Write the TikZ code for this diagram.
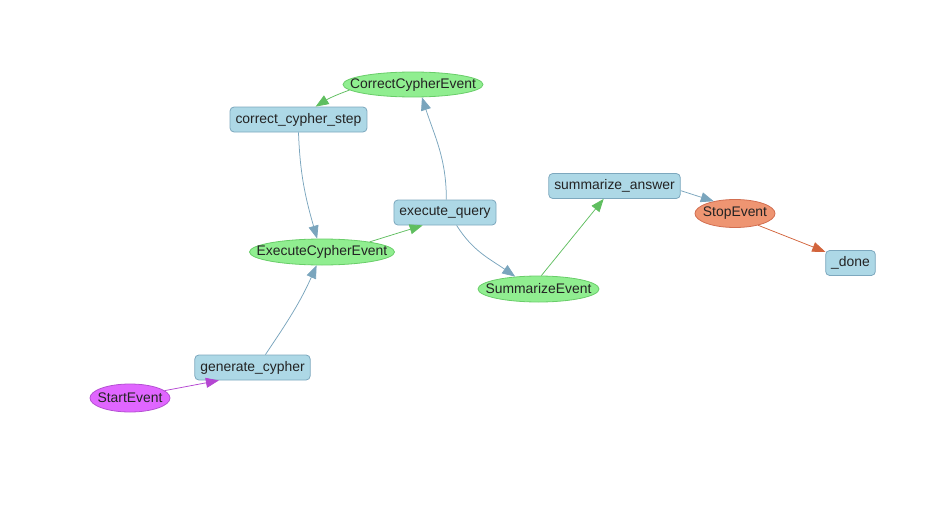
\documentclass[tikz,border=0pt]{standalone}
\usepackage{fontspec}
\setmainfont{Liberation Sans}
\usetikzlibrary{shapes.geometric,arrows.meta}
\definecolor{boxfill}{HTML}{ADD8E6}
\definecolor{boxdraw}{RGB}{125,168,190}
\definecolor{bluedge}{RGB}{122,165,189}
\definecolor{grnfill}{HTML}{90EE90}
\definecolor{grndraw}{RGB}{105,205,105}
\definecolor{grnedge}{RGB}{95,190,95}
\definecolor{purfill}{RGB}{224,102,255}
\definecolor{purdraw}{RGB}{180,80,210}
\definecolor{puredge}{RGB}{180,70,210}
\definecolor{orgfill}{RGB}{238,149,114}
\definecolor{orgdraw}{RGB}{210,110,80}
\definecolor{orgedge}{RGB}{210,100,60}
\definecolor{txt}{RGB}{35,35,35}
\newcommand{\zw}[1]{\makebox[0pt]{#1}}
\begin{document}
\begin{tikzpicture}[x=1pt,y=1pt,
  lbl/.style={font=\fontsize{13.9}{16}\selectfont, text=txt},
  stepbox/.style={lbl, draw=boxdraw, fill=boxfill, rounded corners=4pt,
    minimum height=25pt, inner xsep=5.5pt, inner ysep=0pt, line width=0.8pt},
  evt/.style={lbl, ellipse, inner sep=0pt, line width=0.8pt},
  grnevt/.style={evt, draw=grndraw, fill=grnfill},
  edge/.style={line width=0.75pt, -{Triangle[length=13pt,width=10pt]}},
  bedge/.style={edge, draw=bluedge},
  gedge/.style={edge, draw=grnedge},
]
\useasboundingbox (0,0) rectangle (942,-511);

% nodes
\node[grnevt, minimum width=140pt, minimum height=25pt] (cce) at (413,-84.5) {\zw{CorrectCypherEvent}};
\node[stepbox] (ccs) at (298.5,-119.5) {correct\_cypher\_step};
\node[stepbox] (eq) at (445,-212.5) {execute\_query};
\node[grnevt, minimum width=145pt, minimum height=26pt] (ece) at (322,-252) {\zw{ExecuteCypherEvent}};
\node[stepbox] (sa) at (614.5,-186) {summarize\_answer};
\node[evt, draw=orgdraw, fill=orgfill, minimum width=80pt, minimum height=28pt] (stop) at (735,-213.5) {\zw{StopEvent}};
\node[stepbox] (done) at (850.5,-263) {\_done};
\node[grnevt, minimum width=121pt, minimum height=26pt] (se) at (538.5,-289) {\zw{SummarizeEvent}};
\node[stepbox] (gc) at (252.5,-367.5) {generate\_cypher};
\node[evt, draw=purdraw, fill=purfill, minimum width=80pt, minimum height=28pt] (start) at (130,-398) {\zw{StartEvent}};

% edges
\draw[gedge] (cce.185) to[out=200,in=32] (ccs.37);
\draw[bedge] (ccs.south) to[out=-88,in=106] (ece.110);
\draw[gedge] (ece.12) -- (eq.210);
\draw[bedge] (eq.84) to[out=90,in=-72] (cce.-55);
\draw[bedge] (eq.-48) to[out=-58,in=145] (se.152);
\draw[gedge] (se.78) -- (sa.230);
\draw[bedge] (sa.-4) -- (stop.150);
\draw[edge, draw=orgedge] (stop.-27) -- (done.156);
\draw[bedge] (gc.45) to[out=56,in=-114] (ece.-112);
\draw[edge, draw=puredge] (start.12) -- (gc.201);
\end{tikzpicture}
\end{document}
